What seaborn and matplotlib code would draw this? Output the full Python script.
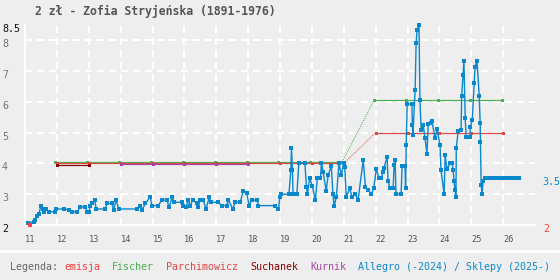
import matplotlib
matplotlib.use('Agg')
import matplotlib.pyplot as plt
import seaborn as sns
from matplotlib.patches import Rectangle

# --- data ---
title = '2 zł - Zofia Stryjeńska (1891-1976)'

emisja_year = [2011.16]
emisja_val = [2.0]

fischer_year_a = [2011.95, 2012.95, 2013.95, 2014.95, 2015.95, 2016.95, 2017.95, 2018.95, 2019.95, 2020.95]
fischer_val_a = [4.05] * 10
fischer_year_b = [2021.95, 2022.95, 2023.95, 2024.95, 2025.95]
fischer_val_b = [6.05, 6.05, 6.05, 6.05, 6.05]

parch_year_a = [2012, 2013, 2014, 2015, 2016, 2017, 2018, 2019, 2020, 2021]
parch_val_a = [4.0] * 10
parch_year_b = [2022, 2023, 2024, 2025, 2026]
parch_val_b = [5.0, 5.0, 5.0, 5.0, 5.0]

suchanek_year = [2012, 2013]
suchanek_val = [3.95, 3.95]

kurnik_year = [2014, 2015, 2016, 2017, 2018]
kurnik_val = [3.97, 3.97, 3.97, 3.97, 3.97]

allegro_year = [
    2011.08, 2011.27, 2011.32, 2011.38, 2011.43, 2011.50, 2011.56, 2011.59, 2011.66, 2011.74,
    2011.95, 2011.98, 2012.21, 2012.37, 2012.47, 2012.63, 2012.74, 2012.89, 2012.95, 2013.00,
    2013.05, 2013.10, 2013.19, 2013.23, 2013.52, 2013.57, 2013.73, 2013.78, 2013.86, 2013.94,
    2014.51, 2014.62, 2014.67, 2014.78, 2014.93, 2014.98, 2015.18, 2015.29, 2015.45, 2015.52,
    2015.62, 2015.68, 2015.92, 2015.97, 2016.05, 2016.12, 2016.18, 2016.26, 2016.39, 2016.44,
    2016.49, 2016.59, 2016.68, 2016.78, 2016.83, 2017.07, 2017.17, 2017.33, 2017.38, 2017.52,
    2017.59, 2017.75, 2017.85, 2017.96, 2018.03, 2018.11, 2018.29, 2018.32, 2018.84, 2018.95,
    2019.00, 2019.03, 2019.28, 2019.34, 2019.36, 2019.39, 2019.41, 2019.53, 2019.59, 2019.78,
    2019.83, 2019.86, 2019.93, 2020.01, 2020.11, 2020.17, 2020.27, 2020.30, 2020.35, 2020.45,
    2020.51, 2020.61, 2020.66, 2020.70, 2020.77, 2020.85, 2020.92, 2021.00, 2021.03, 2021.08,
    2021.19, 2021.26, 2021.36, 2021.45, 2021.61, 2021.68, 2021.76, 2021.87, 2021.94, 2022.02,
    2022.11, 2022.18, 2022.23, 2022.26, 2022.36, 2022.39, 2022.45, 2022.55, 2022.58, 2022.61,
    2022.64, 2022.80, 2022.83, 2022.92, 2022.94, 2022.96, 2022.99, 2023.14, 2023.15, 2023.17,
    2023.24, 2023.27, 2023.30, 2023.36, 2023.39, 2023.43, 2023.49, 2023.55, 2023.61, 2023.65,
    2023.74, 2023.77, 2023.86, 2023.93, 2024.02, 2024.05, 2024.15, 2024.18, 2024.24, 2024.34,
    2024.40, 2024.43, 2024.46, 2024.49, 2024.52, 2024.53, 2024.59, 2024.68, 2024.70, 2024.74,
    2024.77, 2024.81, 2024.84, 2024.96, 2024.97, 2025.03, 2025.09, 2025.12, 2025.18, 2025.25,
    2025.28, 2025.29, 2025.31, 2025.34, 2025.37, 2025.43, 2025.51, 2025.59, 2025.67, 2025.75,
    2025.83, 2025.91, 2025.99, 2026.07, 2026.15, 2026.23, 2026.31, 2026.39, 2026.47, 2026.50,
]
allegro_val = [
    2.06, 2.11, 2.16, 2.30, 2.35, 2.62, 2.52, 2.43, 2.52, 2.43,
    2.43, 2.52, 2.52, 2.49, 2.43, 2.43, 2.59, 2.59, 2.43, 2.43,
    2.62, 2.70, 2.81, 2.52, 2.52, 2.70, 2.70, 2.49, 2.81, 2.52,
    2.52, 2.63, 2.49, 2.70, 2.92, 2.63, 2.63, 2.81, 2.81, 2.59,
    2.90, 2.74, 2.74, 2.63, 2.59, 2.81, 2.63, 2.81, 2.70, 2.59,
    2.81, 2.81, 2.52, 2.90, 2.74, 2.74, 2.63, 2.63, 2.81, 2.52,
    2.74, 2.74, 3.11, 3.03, 2.63, 2.81, 2.81, 2.63, 2.63, 2.52,
    2.92, 3.00, 3.00, 3.78, 4.49, 3.78, 3.00, 3.00, 4.02, 4.02,
    3.24, 3.00, 3.52, 3.28, 2.81, 3.52, 3.52, 4.02, 3.73, 3.11,
    3.62, 3.92, 3.00, 2.62, 2.92, 4.02, 3.62, 4.02, 3.89, 2.92,
    3.19, 2.90, 3.01, 2.81, 4.11, 3.24, 3.14, 3.01, 3.19, 3.81,
    3.52, 3.52, 3.73, 3.85, 4.21, 3.43, 3.20, 3.20, 3.95, 4.11,
    3.00, 3.00, 3.92, 3.92, 3.20, 4.60, 5.93, 5.93, 5.25, 4.93,
    6.40, 7.90, 8.33, 8.50, 6.06, 5.08, 5.25, 4.82, 4.30, 5.28,
    5.31, 5.38, 4.82, 5.11, 4.60, 3.79, 3.00, 4.27, 3.82, 4.01,
    4.01, 3.80, 3.43, 3.14, 2.90, 4.50, 5.05, 5.08, 6.20, 6.87,
    7.33, 5.47, 4.85, 4.85, 5.20, 5.40, 6.60, 7.15, 7.33, 6.20,
    5.31, 4.70, 3.30, 3.00, 3.43, 3.52, 3.52, 3.52, 3.52, 3.52,
    3.52, 3.52, 3.52, 3.52, 3.52, 3.52, 3.52, 3.52, 3.52, 3.52,
]

year_ticks = list(range(2011, 2027))
year_labels = [str(y)[2:] for y in year_ticks]
y_levels = [2, 3, 4, 5, 6, 7, 8, 8.5]
y_labels = ['2', '3', '4', '5', '6', '7', '8', '8.5']

legend_texts = ['Legenda:', 'emisja', 'Fischer', 'Parchimowicz', 'Suchanek', 'Kurnik',
                'Allegro (-2024) / Sklepy (2025-)']
legend_colors = ['#666666', '#f03c3c', '#4caf50', '#e04848', '#8b0000', '#a844a8', '#0a88cc']

# --- style ---
BG = '#eeeeee'
PX = 0.72  # points per pixel at dpi 100
BLUE = '#0a88cc'
GREEN = '#4caf50'
RED = '#e04848'

sns.set_style('white')
plt.rcParams['font.family'] = ['DejaVu Sans Mono', 'DejaVu Sans']
plt.rcParams['lines.scale_dashes'] = False

fig = plt.figure(figsize=(5.6, 2.8), dpi=100, facecolor=BG)
ax = fig.add_axes([25 / 560, 55 / 280, 510 / 560, 200 / 280], facecolor=BG)


def draw(xs, ys, color, z, ms=3, lw=1.2, ls='-'):
    sns.lineplot(x=xs, y=ys, ax=ax, color=color, linewidth=lw * PX, linestyle=ls,
                 marker='s', markersize=ms * PX, markeredgewidth=0, sort=False,
                 estimator=None, zorder=z, clip_on=False, legend=False)


# dotted jumps between catalogue editions
dot = (0, (1 * PX, 1.2 * PX))
sns.lineplot(x=[fischer_year_a[-1], fischer_year_b[0]], y=[fischer_val_a[-1], fischer_val_b[0]],
             ax=ax, color=GREEN, linewidth=1 * PX, linestyle=dot, sort=False, estimator=None, zorder=3)
sns.lineplot(x=[parch_year_a[-1], parch_year_b[0]], y=[parch_val_a[-1], parch_val_b[0]],
             ax=ax, color=RED, linewidth=1 * PX, linestyle=dot, sort=False, estimator=None, zorder=3)

draw(fischer_year_a, fischer_val_a, GREEN, 3)
draw(fischer_year_b, fischer_val_b, GREEN, 3)
draw(parch_year_a, parch_val_a, RED, 4)
draw(parch_year_b, parch_val_b, RED, 4)
draw(suchanek_year, suchanek_val, '#8b0000', 5)
draw(kurnik_year, kurnik_val, '#a844a8', 5)
draw(allegro_year, allegro_val, BLUE, 6, ms=3.5, lw=1.4)
draw(emisja_year, emisja_val, '#ff4040', 7, ms=5)

# --- axes ---
ax.set_xlim(2011, 2027)
ax.set_ylim(2, 8.5)
ax.set_xlabel('')
ax.set_ylabel('')
ax.set_xticks(year_ticks)
ax.set_xticklabels(year_labels)
ax.set_yticks([3, 4, 5, 6, 7, 8])
ax.grid(True, color='white', linewidth=2 * PX, linestyle=(0, (7 * PX, 5 * PX)), zorder=1)
ax.set_axisbelow(True)
ax.tick_params(axis='x', length=4 * PX, width=2 * PX, color='white', direction='out',
               pad=4, labelsize=6.2, labelcolor='#555555')
ax.tick_params(axis='y', length=0, labelleft=False)
for lbl in ax.get_xticklabels():
    lbl.set_horizontalalignment('left')
sns.despine(ax=ax)
for side in ['left', 'bottom']:
    ax.spines[side].set_color('white')
    ax.spines[side].set_linewidth(2 * PX)

for v, lab in zip(y_levels, y_labels):
    c = '#111111' if lab in ('2', '8.5') else '#777777'
    ax.annotate(lab, xy=(0, v), xycoords=('axes fraction', 'data'), xytext=(-23, -4),
                textcoords='offset pixels', ha='left', va='center', fontsize=7.2,
                color=c, annotation_clip=False)

# current price and issue price on the right
ax.annotate('3.5', xy=(1, 3.5), xycoords=('axes fraction', 'data'), xytext=(7, -3),
            textcoords='offset pixels', ha='left', va='center', fontsize=7.2,
            color=BLUE, annotation_clip=False)
ax.annotate('2', xy=(1, 2), xycoords=('axes fraction', 'data'), xytext=(8, -4),
            textcoords='offset pixels', ha='left', va='center', fontsize=7.2,
            color='#ff4040', annotation_clip=False)

# --- title, separator and legend ---
fig.text(35 / 560, 1 - 11 / 280, title, fontsize=8.3, color='#555555', weight='bold',
         ha='left', va='center')
fig.patches.append(Rectangle((0, 1 - 253 / 280), 1, 3 / 280, transform=fig.transFigure,
                             facecolor='white', edgecolor='none'))

x = 10
for i, (txt, col) in enumerate(zip(legend_texts, legend_colors)):
    fig.text(x / 560, 1 - 267 / 280, txt, fontsize=7.2, color=col, ha='left', va='center')
    x += 6 * (len(txt) + (1 if i == 0 else 2))

fig.savefig('out.png', dpi=100, facecolor=BG)
